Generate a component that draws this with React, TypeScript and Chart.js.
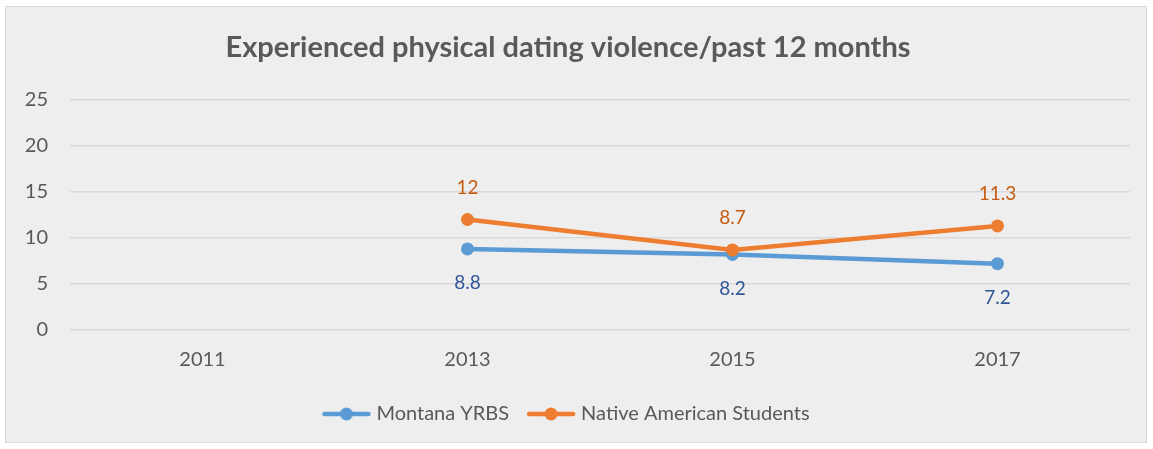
import React, { useEffect, useRef } from "react";
import { Chart, registerables } from "chart.js";

Chart.register(...registerables);

const categories = ["2011", "2013", "2015", "2017"];
const montanaYRBS: (number | null)[] = [null, 8.8, 8.2, 7.2];
const nativeAmerican: (number | null)[] = [null, 12, 8.7, 11.3];
const yTicks = [0, 5, 10, 15, 20, 25];

const BLUE = "#5B9BD5";
const ORANGE = "#ED7D31";
const FONT = "Lato, 'Open Sans', sans-serif";

function legendIcon(color: string) {
  const c = document.createElement("canvas");
  c.width = 50;
  c.height = 14;
  const ctx = c.getContext("2d")!;
  ctx.strokeStyle = color;
  ctx.lineWidth = 4.5;
  ctx.lineCap = "round";
  ctx.beginPath();
  ctx.moveTo(3, 7);
  ctx.lineTo(47, 7);
  ctx.stroke();
  ctx.fillStyle = color;
  ctx.beginPath();
  ctx.arc(25, 7, 6.5, 0, Math.PI * 2);
  ctx.fill();
  return c;
}

const labelPlugin = {
  id: "valueLabels",
  afterDatasetsDraw(chart: any) {
    const ctx = chart.ctx;
    ctx.save();
    ctx.font = `19px ${FONT}`;
    ctx.textAlign = "center";
    ctx.textBaseline = "middle";
    chart.data.datasets.forEach((ds: any, i: number) => {
      const meta = chart.getDatasetMeta(i);
      meta.data.forEach((pt: any, j: number) => {
        const v = ds.data[j];
        if (v === null || v === undefined) return;
        const above = ds.labelPos === "above";
        ctx.fillStyle = ds.labelColor;
        ctx.fillText(String(v), pt.x, pt.y + (above ? -32 : 34));
      });
    });
    ctx.restore();
  },
};

export default function App() {
  const ref = useRef<HTMLCanvasElement>(null);
  useEffect(() => {
    if (!ref.current) return;
    const chart = new Chart(ref.current, {
      type: "line",
      data: {
        labels: categories,
        datasets: [
          {
            label: "Native American Students",
            data: nativeAmerican,
            borderColor: ORANGE,
            backgroundColor: ORANGE,
            borderWidth: 4.5,
            pointRadius: 6.5,
            pointHoverRadius: 6.5,
            pointBackgroundColor: ORANGE,
            pointBorderWidth: 0,
            order: 0,
            labelPos: "above",
            labelColor: "#C55A11",
          } as any,
          {
            label: "Montana YRBS",
            data: montanaYRBS,
            borderColor: BLUE,
            backgroundColor: BLUE,
            borderWidth: 4.5,
            pointRadius: 6.5,
            pointHoverRadius: 6.5,
            pointBackgroundColor: BLUE,
            pointBorderWidth: 0,
            order: 1,
            labelPos: "below",
            labelColor: "#2F5597",
          } as any,
        ],
      },
      options: {
        animation: false,
        responsive: true,
        maintainAspectRatio: false,
        layout: { padding: { left: 0, right: 16, top: 0, bottom: 8 } },
        plugins: {
          title: {
            display: true,
            text: "Experienced physical dating violence/past 12 months",
            color: "#595959",
            font: { family: FONT, size: 29, weight: "bold" },
            padding: { top: 23, bottom: 35 },
          },
          legend: {
            position: "bottom",
            labels: {
              color: "#595959",
              font: { family: FONT, size: 20 },
              usePointStyle: true,
              pointStyleWidth: 40,
              padding: 22,
              generateLabels: () => {
                const items = [
                  { text: "Montana YRBS", color: BLUE, idx: 1 },
                  { text: "Native American Students", color: ORANGE, idx: 0 },
                ];
                return items.map((it) => ({
                  text: it.text,
                  fillStyle: it.color,
                  strokeStyle: it.color,
                  fontColor: "#595959",
                  pointStyle: legendIcon(it.color),
                  lineWidth: 0,
                  hidden: false,
                  datasetIndex: it.idx,
                }));
              },
            },
          },
          tooltip: { enabled: false },
        },
        scales: {
          x: {
            offset: true,
            grid: { display: false },
            border: { display: false },
            ticks: { color: "#595959", font: { family: FONT, size: 20 }, padding: 10 },
          },
          y: {
            min: 0,
            max: 25,
            afterBuildTicks: (s: any) => {
              s.ticks = yTicks.map((v) => ({ value: v }));
            },
            afterFit: (s: any) => {
              s.width = 64;
            },
            grid: { color: "#D9D9D9", lineWidth: 1.5, drawTicks: false },
            border: { display: false },
            ticks: { color: "#595959", font: { family: FONT, size: 20 }, padding: 22 },
          },
        },
      },
      plugins: [labelPlugin],
    });
    return () => chart.destroy();
  }, []);

  return (
    <div style={{ position: "fixed", left: 0, top: 0, width: 1153, height: 449, background: "#fff" }}>
      <div
        style={{
          position: "absolute",
          left: 5,
          top: 6,
          width: 1140,
          height: 435,
          border: "1px solid #D9D9D9",
          background: "#EEEEEE",
        }}
      >
        <canvas ref={ref} />
      </div>
    </div>
  );
}
